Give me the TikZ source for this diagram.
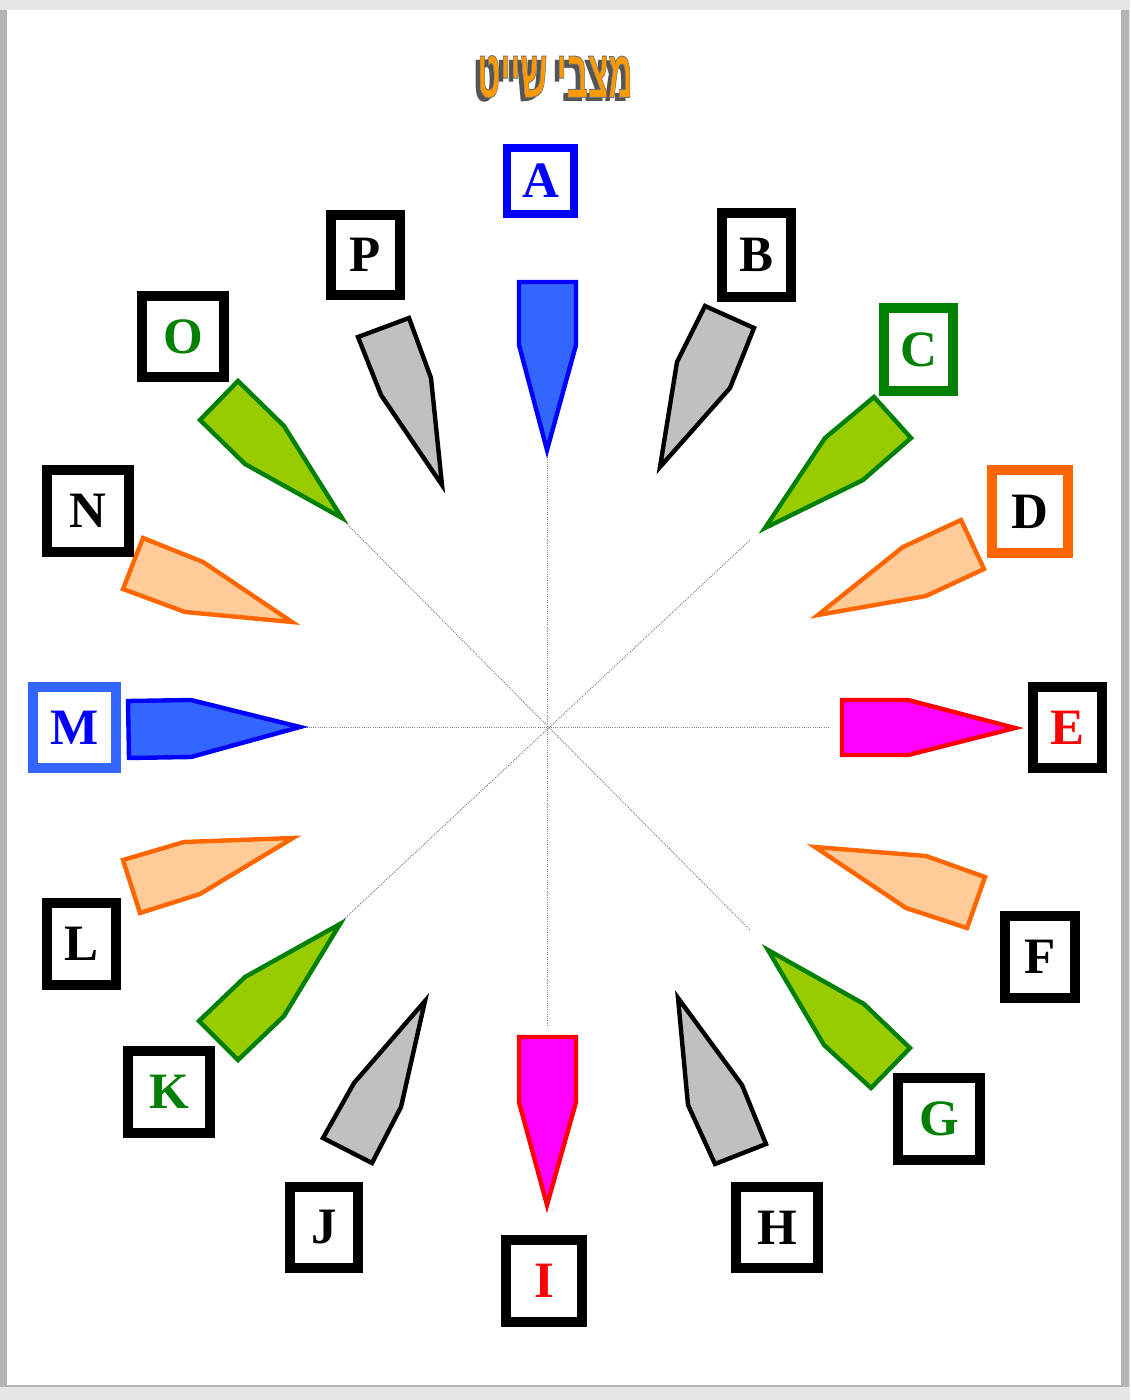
\documentclass[tikz,border=0pt]{standalone}
\usepackage{fontspec}
\setmainfont{Liberation Serif}
\newfontfamily\hebfont[Script=Hebrew]{Liberation Sans}
\TeXXeTstate=1
\definecolor{bgGray}{HTML}{E6E6E6}
\definecolor{shGray}{HTML}{B4B4B4}
\definecolor{blueFill}{HTML}{3366FF}
\definecolor{blueLine}{HTML}{0000FF}
\definecolor{grayFill}{HTML}{C0C0C0}
\definecolor{greenFill}{HTML}{99CC00}
\definecolor{greenLine}{HTML}{008000}
\definecolor{orangeFill}{HTML}{FFCC99}
\definecolor{orangeLine}{HTML}{FF6600}
\definecolor{magFill}{HTML}{FF00FF}
\definecolor{redLine}{HTML}{FF0000}
\definecolor{titleOrange}{HTML}{FF9900}
\definecolor{titleShadow}{HTML}{555555}
\tikzset{
  ptr/.style={line width=2.2pt, line join=miter},
  ptrBlue/.style={ptr, draw=blueLine, fill=blueFill},
  ptrGray/.style={ptr, draw=black, fill=grayFill},
  ptrGreen/.style={ptr, draw=greenLine, fill=greenFill},
  ptrOrange/.style={ptr, draw=orangeLine, fill=orangeFill},
  ptrMag/.style={ptr, draw=redLine, fill=magFill},
  lbox/.style={draw=black, fill=white, line width=5pt, inner sep=0pt,
    font=\fontsize{25.5}{25.5}\selectfont\bfseries, text=black},
  axis/.style={draw=gray, line width=0.5pt, dash pattern=on 0.5pt off 0.6pt},
  ttl/.style={inner sep=0pt, font=\hebfont\fontsize{34}{34}\selectfont\bfseries}
}
\newcommand{\hebtitle}{\scalebox{0.49}[1]{\beginR מצבי שייט\endR}}
\newcommand{\titlewithshadow}{%
  \makebox[0pt][l]{\raisebox{-2.2pt}{\hspace*{-2pt}\textcolor{titleShadow}{\hebtitle}}}%
  {\color{titleOrange}\special{pdf:literal 0.45 0.45 0.45 RG 0.5 w 2 Tr}\hebtitle\special{pdf:literal 0 Tr}}}
\begin{document}
\begin{tikzpicture}[x=0.5pt,y=-0.5pt]
\useasboundingbox (0,0) rectangle (1130,1400);
% page
\fill[bgGray] (0,0) rectangle (1130,1400);
\fill[shGray] (0,10) rectangle (1129,1387);
\fill[white] (7,10) rectangle (1121,1385);
% title
\node[ttl] (title) at (555,79) {\titlewithshadow};
% axes
\coordinate (ctr) at (547,727);
\coordinate (ax1) at (547,455);
\coordinate (ax2) at (547,1025);
\coordinate (ax3) at (300,727);
\coordinate (ax4) at (830,727);
\coordinate (ax5) at (343,520);
\coordinate (ax6) at (750,930);
\coordinate (ax7) at (750,540);
\coordinate (ax8) at (343,920);
\draw[axis] (ax1) -- (ax2);
\draw[axis] (ax3) -- (ax4);
\draw[axis] (ax5) -- (ax6);
\draw[axis] (ax7) -- (ax8);
% pointers
\draw[ptrBlue] (519,282) -- (576,282) -- (576,345) -- (547,450) -- (519,345) -- cycle;
\draw[ptrGray] (705,306) -- (754,328) -- (730,388) -- (660,467) -- (677,362) -- cycle;
\draw[ptrGreen] (874,397) -- (911,438) -- (863,480) -- (765,528) -- (825,438) -- cycle;
\draw[ptrOrange] (961,520) -- (984,569) -- (926,596) -- (818,615) -- (903,547) -- cycle;
\draw[ptrMag] (842,700) -- (908,700) -- (1015,728) -- (908,755) -- (842,755) -- cycle;
\draw[ptrOrange] (815,847) -- (926,856) -- (985,877) -- (967,928) -- (906,908) -- cycle;
\draw[ptrGreen] (768,950) -- (864,1004) -- (910,1048) -- (871,1088) -- (824,1045) -- cycle;
\draw[ptrGray] (678,998) -- (742,1085) -- (766,1144) -- (715,1164) -- (688,1105) -- cycle;
\draw[ptrMag] (519,1037) -- (576,1037) -- (576,1102) -- (547,1205) -- (519,1102) -- cycle;
\draw[ptrGray] (425,1001) -- (401,1107) -- (372,1163) -- (323,1138) -- (354,1083) -- cycle;
\draw[ptrGreen] (340,924) -- (284,1016) -- (238,1060) -- (199,1021) -- (245,977) -- cycle;
\draw[ptrOrange] (293,838) -- (200,894) -- (140,913) -- (123,860) -- (184,842) -- cycle;
\draw[ptrBlue] (128,701) -- (191,700) -- (300,727) -- (191,757) -- (129,758) -- cycle;
\draw[ptrOrange] (292,622) -- (203,562) -- (143,538) -- (123,589) -- (185,612) -- cycle;
\draw[ptrGreen] (342,518) -- (284,426) -- (238,381) -- (200,420) -- (245,464) -- cycle;
\draw[ptrGray] (442,485) -- (431,378) -- (409,318) -- (358,337) -- (381,395) -- cycle;
% letter boxes
\node[lbox, draw=blueLine, text=blueLine, line width=4pt, minimum width=33.5pt, minimum height=33pt] (A) at (540.5,181) {A};
\node[lbox, minimum width=34.5pt, minimum height=42pt] (B) at (756.5,255) {B};
\node[lbox, draw=greenLine, text=greenLine, minimum width=34.5pt, minimum height=41.5pt] (C) at (918.5,349.5) {C};
\node[lbox, draw=orangeLine, minimum width=38pt, minimum height=41.5pt] (D) at (1030,511.5) {D};
\node[lbox, text=redLine, minimum width=34.5pt, minimum height=40.5pt] (E) at (1067.5,727.5) {E};
\node[lbox, minimum width=35pt, minimum height=41pt] (F) at (1040,957) {F};
\node[lbox, text=greenLine, minimum width=41pt, minimum height=41pt] (G) at (939,1119) {G};
\node[lbox, minimum width=41pt, minimum height=40.5pt] (H) at (777,1227.5) {H};
\node[lbox, text=redLine, minimum width=38pt, minimum height=41pt] (I) at (544,1281) {I};
\node[lbox, minimum width=34pt, minimum height=40.5pt] (J) at (324,1227.5) {J};
\node[lbox, text=greenLine, minimum width=41pt, minimum height=41pt] (K) at (169,1092) {K};
\node[lbox, minimum width=34.5pt, minimum height=41pt] (L) at (81.5,944) {L};
\node[lbox, draw=blueFill, text=blueLine, minimum width=41.5pt, minimum height=40.5pt] (M) at (74.5,727.5) {M};
\node[lbox, minimum width=41pt, minimum height=41pt] (N) at (88,511) {N};
\node[lbox, text=greenLine, minimum width=41pt, minimum height=40.5pt] (O) at (183,336.5) {O};
\node[lbox, minimum width=34.5pt, minimum height=40pt] (P) at (365.5,255) {P};
\end{tikzpicture}
\end{document}
